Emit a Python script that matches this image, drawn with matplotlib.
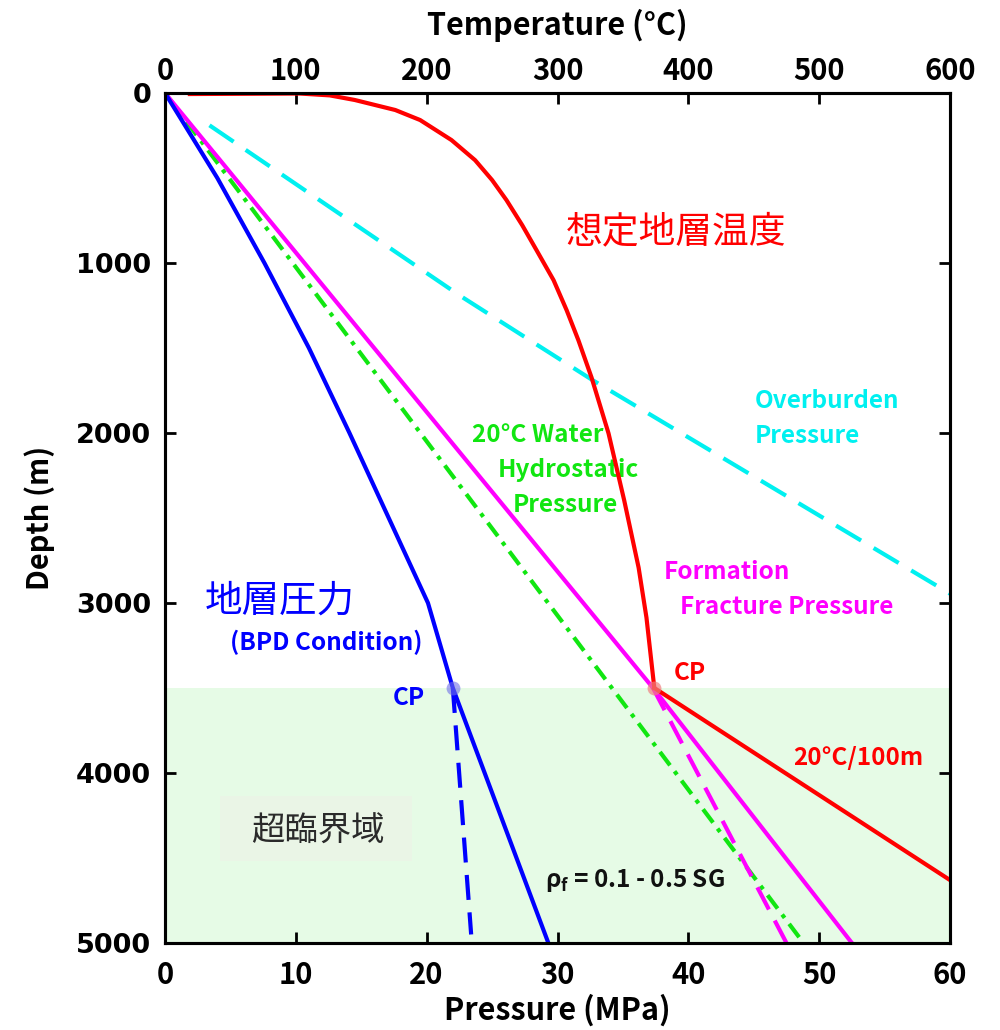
import numpy as np
import matplotlib.pyplot as plt
from matplotlib.patches import Rectangle

plt.rcParams['font.family'] = ['Noto Sans CJK JP', 'DejaVu Sans']
plt.rcParams['mathtext.default'] = 'regular'

# 地層温度 (top axis, degC) vs depth
temp_c = [19, 103, 126, 145, 176, 195, 219, 237, 250, 261, 273, 284, 297, 307, 316, 326,
          339, 351, 362, 368, 374]
temp_depth = [6, 3, 14, 41, 100, 159, 277, 395, 512, 630, 777, 925, 1101, 1278, 1455, 1673,
              2002, 2397, 2792, 3086, 3500]
# 20 degC / 100 m below the critical point
grad_temp = [374, 600]
grad_depth = [3500, 4630]

# 地層圧力 (BPD condition)
bpd_p = [0, 4.0, 7.6, 11.0, 14.1, 17.1, 20.1, 22.0, 29.3]
bpd_depth = [0, 500, 1000, 1500, 2000, 2500, 3000, 3500, 5000]
bpd_low_p = [22.0, 23.4]
bpd_low_depth = [3500, 4950]

# hydrostatic, fracture, overburden
hydro_p = [0, 48.8]
hydro_depth = [0, 5000]
frac_p = [0, 37.3, 52.5]
frac_depth = [0, 3500, 5000]
frac_low_p = [37.3, 47.5]
frac_low_depth = [3500, 5000]
over_p = [3.4, 22.5, 32.7, 60]
over_depth = [190, 1190, 1690, 2945]

cp_depth = 3500
cp_blue_p = 22.0
cp_red_t = 374

RED = '#ff0000'
BLUE = '#0000ff'
GREEN = '#11e611'
CYAN = '#00f0f0'
MAG = '#ff00ff'

fig = plt.figure(figsize=(10, 10.3), dpi=100)
ax = fig.add_axes([0.165, 0.0845, 0.785, 0.8252])
ax.set_xlim(0, 60)
ax.set_ylim(5000, 0)

# supercritical zone
ax.axhspan(cp_depth, 5000, color='#e6fbe6', zorder=0, lw=0)
ax.add_patch(Rectangle((0.07, 0.097), 0.245, 0.076, transform=ax.transAxes,
                       facecolor='#eaf5e6', edgecolor='none', zorder=0.5))
ax.text(11.7, 4340, '超臨界域', fontsize=24, color='#2a2a2a', ha='center', va='center')

lw = 3
ax.plot(over_p, over_depth, color=CYAN, lw=lw, dashes=(7, 3.5))
ax.plot(hydro_p, hydro_depth, color=GREEN, lw=lw, dashes=(4, 1.8, 1, 1.8))
ax.plot(frac_p, frac_depth, color=MAG, lw=lw)
ax.plot(frac_low_p, frac_low_depth, color=MAG, lw=lw, dashes=(6, 3))
ax.plot(bpd_p, bpd_depth, color=BLUE, lw=lw, solid_joinstyle='round')
ax.plot(bpd_low_p, bpd_low_depth, color=BLUE, lw=lw, dashes=(6, 3))
ax.plot([cp_blue_p], [cp_depth], 'o', color='#7070e8', ms=10, alpha=0.6, mec='none')

ax2 = ax.twiny()
ax2.set_xlim(0, 600)
ax2.plot(temp_c, temp_depth, color=RED, lw=lw, solid_joinstyle='round')
ax2.plot(grad_temp, grad_depth, color=RED, lw=lw)
ax2.plot([cp_red_t], [cp_depth], 'o', color='#f08080', ms=10, alpha=0.7, mec='none')

# labels inside the plot
fs = 17.5
ax.text(30.6, 819, '想定地層温度', fontsize=26.5, color=RED, va='center')
ax.text(3.0, 2986, '地層圧力', fontsize=27, color=BLUE, va='center')
ax.text(5.0, 3233, '(BPD Condition)', fontsize=fs, color=BLUE, va='center', fontweight='bold')
ax.text(18.6, 3557, 'CP', fontsize=fs, color=BLUE, ha='center', va='center', fontweight='bold')
ax.text(40.1, 3410, 'CP', fontsize=fs, color=RED, ha='center', va='center', fontweight='bold')
ax.text(23.5, 2014, '20°C Water', fontsize=fs, color=GREEN, va='center', fontweight='bold')
ax.text(25.4, 2220, 'Hydrostatic', fontsize=fs, color=GREEN, va='center', fontweight='bold')
ax.text(26.6, 2426, 'Pressure', fontsize=fs, color=GREEN, va='center', fontweight='bold')
ax.text(45.1, 1814, 'Overburden', fontsize=fs, color=CYAN, va='center', fontweight='bold')
ax.text(45.1, 2020, 'Pressure', fontsize=fs, color=CYAN, va='center', fontweight='bold')
ax.text(38.1, 2815, 'Formation', fontsize=fs, color=MAG, va='center', fontweight='bold')
ax.text(39.4, 3021, 'Fracture Pressure', fontsize=fs, color=MAG, va='center', fontweight='bold')
ax.text(48.0, 3910, '20°C/100m', fontsize=fs, color=RED, va='center', fontweight='bold')
ax.text(29.05, 4635, r'$\rho_f$ = 0.1 - 0.5 SG', fontsize=17.5, color='#111111',
        va='center', fontweight='semibold')

# axes styling
ax.set_xticks(np.arange(0, 61, 10))
ax.set_yticks(np.arange(0, 5001, 1000))
ax2.set_xticks(np.arange(0, 601, 100))
for a in (ax, ax2):
    for s in a.spines.values():
        s.set_linewidth(2.2)
ax.tick_params(axis='both', direction='in', length=8, width=2, right=True)
ax.tick_params(axis='x', labelsize=21, pad=12)
ax.tick_params(axis='y', pad=10)
ax2.tick_params(axis='x', direction='in', length=8, width=2, labelsize=21, pad=5)
for lab in ax.get_xticklabels() + ax2.get_xticklabels():
    lab.set_fontweight('bold')
for lab in ax.get_yticklabels():
    lab.set_fontfamily('DejaVu Sans')
    lab.set_fontweight('bold')
    lab.set_fontsize(19.5)

ax.set_xlabel('Pressure (MPa)', fontsize=22, fontweight='bold', labelpad=3)
ax2.set_xlabel('Temperature (°C)', fontsize=22, fontweight='bold', labelpad=15)
ax.set_ylabel('Depth (m)', fontsize=21, fontweight='bold', labelpad=15)

fig.savefig('out.png', dpi=100)
